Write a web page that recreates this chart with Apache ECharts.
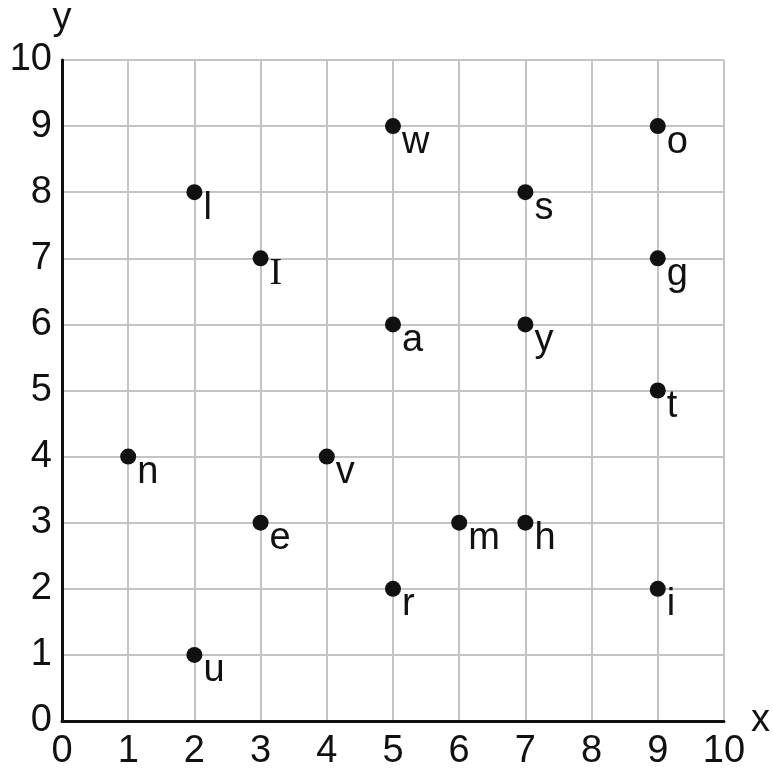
<!DOCTYPE html>
<html>
<head>
<meta charset="utf-8">
<script src="https://cdn.jsdelivr.net/npm/echarts@6/dist/echarts.min.js"></script>
<style>
    html, body {margin: 0; padding: 0; background: #fff;}
    #chart {width: 773px; height: 771px;}
</style>
</head>
<body>
<div id="chart"></div>
<script>
// 点的数据
var pointNames = ['w', 'o', 'l', 's', 'I', 'g', 'a', 'y', 't', 'n', 'v', 'e', 'm', 'h', 'r', 'i', 'u'];
var pointX = [5, 9, 2, 7, 3, 9, 5, 7, 9, 1, 4, 3, 6, 7, 5, 9, 2];
var pointY = [9, 9, 8, 8, 7, 7, 6, 6, 5, 4, 4, 3, 3, 3, 2, 2, 1];

var FONT = 'Liberation Sans';
var TEXT_COLOR = '#111';

var chart = echarts.init(document.getElementById('chart'));

var seriesData = [];
for (var i = 0; i < pointNames.length; i++) {
    seriesData.push({name: pointNames[i], value: [pointX[i], pointY[i]]});
}

var option = {
    animation: false,
    backgroundColor: '#fff',
    grid: {left: 62, right: 47, top: 60, bottom: 48},
    xAxis: {
        type: 'value',
        min: 0, max: 10, interval: 1,
        name: 'x',
        nameLocation: 'end',
        nameGap: 22,
        nameTextStyle: {fontFamily: FONT, fontSize: 38, color: TEXT_COLOR, verticalAlign: 'middle', padding: [0, 0, 6, 0]},
        axisLine: {show: true, onZero: false, lineStyle: {color: '#111', width: 3}},
        axisTick: {show: false},
        axisLabel: {margin: 12, fontFamily: FONT, fontSize: 38, color: TEXT_COLOR},
        splitLine: {show: true, lineStyle: {color: '#c4c4c4', width: 2}}
    },
    yAxis: {
        type: 'value',
        min: 0, max: 10, interval: 1,
        name: 'y',
        nameLocation: 'end',
        nameGap: 22,
        nameTextStyle: {fontFamily: FONT, fontSize: 38, color: TEXT_COLOR, align: 'center'},
        axisLine: {show: true, onZero: false, lineStyle: {color: '#111', width: 3}},
        axisTick: {show: false},
        axisLabel: {margin: 10, fontFamily: FONT, fontSize: 38, color: TEXT_COLOR},
        splitLine: {show: true, lineStyle: {color: '#c4c4c4', width: 2}}
    },
    series: [{
        type: 'scatter',
        symbol: 'circle',
        symbolSize: 16,
        itemStyle: {color: '#111', opacity: 1},
        label: {
            show: true,
            position: [17, 24],
            align: 'left',
            verticalAlign: 'middle',
            // 大写 I 用带衬线的字体，跟小写 l 区分开
            formatter: function (p) {
                return p.name === 'I' ? '{serif|I}' : p.name;
            },
            rich: {
                serif: {fontFamily: 'Liberation Serif', fontSize: 38, color: TEXT_COLOR}
            },
            fontFamily: FONT,
            fontSize: 38,
            color: TEXT_COLOR
        },
        data: seriesData
    }]
};

chart.setOption(option);
</script>
</body>
</html>
